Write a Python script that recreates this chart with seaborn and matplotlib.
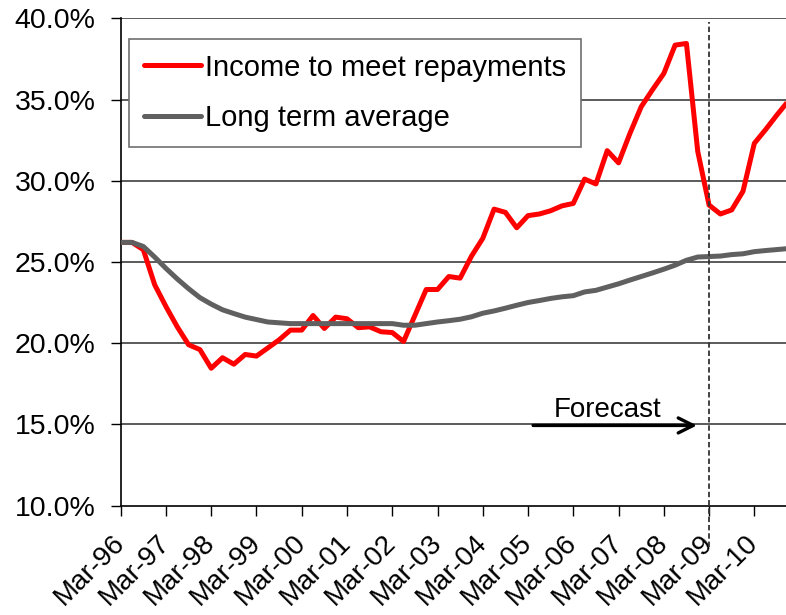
import numpy as np
import pandas as pd
import matplotlib
matplotlib.use("Agg")
import matplotlib.pyplot as plt
import matplotlib.transforms as mtransforms
from matplotlib.ticker import PercentFormatter, FixedLocator
import seaborn as sns

# Quarterly series, Mar-96 .. Dec-10 (percent of income)
income_to_meet_repayments = [
    26.2, 26.2, 25.75, 23.6, 22.25, 21.0, 19.9, 19.6, 18.45, 19.1,
    18.7, 19.3, 19.2, 19.7, 20.2, 20.8, 20.8, 21.7, 20.9, 21.6,
    21.5, 20.95, 21.0, 20.7, 20.65, 20.1, 21.7, 23.3, 23.3, 24.1,
    24.0, 25.35, 26.45, 28.25, 28.05, 27.1, 27.85, 27.95, 28.15, 28.45,
    28.6, 30.1, 29.8, 31.85, 31.1, 32.9, 34.55, 35.6, 36.6, 38.35,
    38.45, 31.8, 28.5, 27.95, 28.2, 29.35, 32.3, 33.15, 34.05, 34.9,
]
long_term_average = [
    26.2, 26.2, 25.95, 25.3, 24.6, 23.95, 23.35, 22.8, 22.4, 22.05,
    21.82, 21.6, 21.45, 21.3, 21.25, 21.2, 21.2, 21.2, 21.2, 21.2,
    21.2, 21.2, 21.2, 21.2, 21.2, 21.1, 21.1, 21.2, 21.3, 21.38,
    21.47, 21.62, 21.84, 21.98, 22.15, 22.33, 22.5, 22.62, 22.75, 22.85,
    22.92, 23.15, 23.25, 23.45, 23.65, 23.88, 24.1, 24.32, 24.55, 24.8,
    25.1, 25.3, 25.33, 25.36, 25.45, 25.5, 25.63, 25.7, 25.76, 25.82,
]
year_labels = ["Mar-96", "Mar-97", "Mar-98", "Mar-99", "Mar-00", "Mar-01",
               "Mar-02", "Mar-03", "Mar-04", "Mar-05", "Mar-06", "Mar-07",
               "Mar-08", "Mar-09", "Mar-10"]
series_names = ["Income to meet repayments", "Long term average"]
forecast_start = 52  # Mar-09 quarter

quarter = np.arange(len(income_to_meet_repayments))
df = pd.DataFrame({
    "quarter": np.concatenate([quarter, quarter]),
    "value": income_to_meet_repayments + long_term_average,
    "series": [series_names[0]] * len(quarter) + [series_names[1]] * len(quarter),
})

sns.set_theme(style="white")
plt.rcParams["font.family"] = ["Liberation Sans", "DejaVu Sans"]
plt.rcParams["text.color"] = "black"
plt.rcParams["xtick.color"] = "black"
plt.rcParams["ytick.color"] = "black"

fig = plt.figure(figsize=(7.86, 6.15), dpi=100)
ax = fig.add_axes([120.7 / 786, 1 - 505.5 / 615, 1 - 120.7 / 786, (505.5 - 18.3) / 615])

sns.lineplot(data=df, x="quarter", y="value", hue="series",
             palette={series_names[0]: "#ff0000", series_names[1]: "#606060"},
             linewidth=3.6, ax=ax, legend=False, zorder=3)
for ln in ax.get_lines():
    ln.set_solid_joinstyle("round")
    ln.set_solid_capstyle("butt")

ax.set_xlim(0, 58.8)
ax.set_ylim(10, 40)
ax.set_xlabel("")
ax.set_ylabel("")

# horizontal gridlines
ax.yaxis.set_major_locator(FixedLocator([10, 15, 20, 25, 30, 35, 40]))
ax.yaxis.set_major_formatter(PercentFormatter(decimals=1))
for yv in [15, 20, 25, 30, 35, 40]:
    ax.axhline(yv, color="#2e2e2e", linewidth=1.1, zorder=1)

ax.set_xticks(np.arange(0, len(year_labels) * 4, 4))
ax.set_xticklabels(year_labels)
shift = mtransforms.ScaledTranslation(5 / 100, 0, fig.dpi_scale_trans)
for lab in ax.get_xticklabels():
    lab.set_rotation(45)
    lab.set_ha("right")
    lab.set_va("center")
    lab.set_rotation_mode("anchor")
    lab.set_transform(lab.get_transform() + shift)

ax.tick_params(axis="x", direction="out", length=7.2, width=1.0, color="black",
               labelsize=20, labelcolor="black", pad=17, bottom=True)
ax.tick_params(axis="y", direction="out", length=7.2, width=1.0, color="black",
               labelsize=20.5, labelcolor="black", pad=11, left=True)

for side in ["top", "right"]:
    ax.spines[side].set_visible(False)
for side in ["left", "bottom"]:
    ax.spines[side].set_color("black")
    ax.spines[side].set_linewidth(1.2)

# forecast marker
ax.plot([forecast_start, forecast_start], [-0.085, 0.993], color="#333333",
        linewidth=1.3, linestyle=(0, (3, 1.6)),
        transform=ax.get_xaxis_transform(), clip_on=False, zorder=4)
ax.annotate("", xy=(50.93, 14.93), xytext=(36.45, 14.93),
            arrowprops=dict(arrowstyle="->,head_length=0.9,head_width=0.45",
                            color="black", linewidth=2.4, shrinkA=0, shrinkB=0),
            zorder=5)
ax.text(43.0, 15.42, "Forecast", fontsize=20, ha="center", va="baseline",
        color="black", zorder=5)

handles = [plt.Line2D([], [], color="#ff0000", linewidth=3.6),
           plt.Line2D([], [], color="#606060", linewidth=3.6)]
leg = fig.legend(handles, series_names, loc="upper left",
                 bbox_to_anchor=(129.3 / 786, 1 - 39 / 615),
                 bbox_transform=fig.transFigure, fontsize=21, frameon=True,
                 fancybox=False, edgecolor="#707070", framealpha=1,
                 borderpad=0.5, handlelength=1.95, handletextpad=0.15,
                 labelspacing=0.78, borderaxespad=0)
leg.get_frame().set_linewidth(1.2)
for t in leg.get_texts():
    t.set_color("black")

fig.savefig("out.png", dpi=100)
